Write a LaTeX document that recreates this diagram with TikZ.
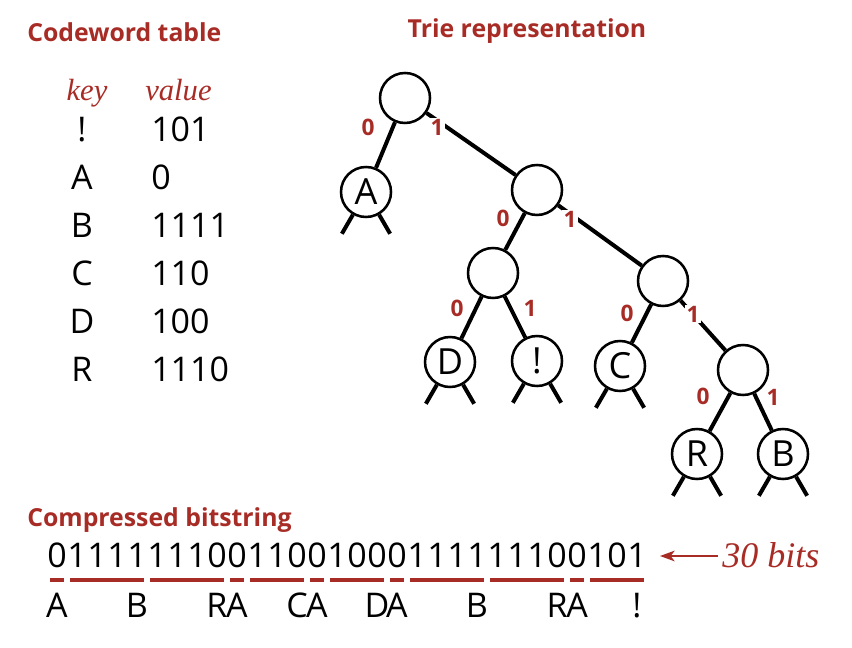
\documentclass[tikz,border=0pt]{standalone}
\usepackage{fontspec}
\setmainfont{Open Sans}
\newfontfamily\serifit{Liberation Serif}
\usetikzlibrary{arrows.meta}
\definecolor{bookred}{RGB}{168,44,38}
\tikzset{
  titletext/.style={anchor=base west, text=bookred, inner sep=0, font=\fontsize{18.6}{22}\selectfont\bfseries},
  tblkey/.style={anchor=base, inner sep=0, font=\fontsize{25.5}{30}\selectfont},
  tblval/.style={anchor=base west, inner sep=0, font=\fontsize{25.5}{30}\selectfont},
  hdr/.style={anchor=base, inner sep=0, text=bookred, font=\fontsize{23}{26}\selectfont\serifit\itshape},
  nd/.style={circle, draw, line width=1.9pt, minimum size=37.5pt, inner sep=0, font=\fontsize{27}{30}\selectfont},
  edge/.style={line width=3pt},
  lbl/.style={text=bookred, inner sep=1pt, font=\fontsize{17}{19}\selectfont\bfseries},
  lblw/.style={lbl, fill=white},
  bit/.style={anchor=base, inner sep=0, font=\fontsize{25.5}{30}\selectfont},
  uline/.style={draw=bookred, line width=3pt},
}
\begin{document}
\begin{tikzpicture}[x=0.75pt,y=-0.75pt]
\useasboundingbox (0,0) rectangle (852,648);
% titles
\node[titletext] (t1) at (27,42) {Codeword table};
\node[titletext, anchor=base] (t2) at (527,38) {Trie representation};
\node[titletext] (t3) at (27,526) {Compressed bitstring};
% table
\node[hdr] (hk) at (87,101) {key};
\node[hdr, anchor=base west] (hv) at (145,101) {value};
\foreach \k/\v [count=\i from 0] in {!/101, A/0, B/1111, C/110, D/100, R/1110}{
  \node[tblkey] (k\i) at (82,142+47.8*\i) {\k};
  \node[tblval] (v\i) at (151,142+47.8*\i) {\v};
}
% trie
\node[nd] (root) at (405,98) {};
\node[nd] (A) at (366,192) {A};
\node[nd] (n1) at (537,190) {};
\node[nd] (n2) at (493,273) {};
\node[nd] (n3) at (663,281) {};
\node[nd] (D) at (450,362) {D};
\node[nd] (ex) at (537,361) {!};
\node[nd] (C) at (620,366) {C};
\node[nd] (n4) at (743,370) {};
\node[nd] (R) at (697,454) {R};
\node[nd] (B) at (783,454) {B};
\draw[edge] (root) -- (A);
\draw[edge] (root) -- (n1);
\draw[edge] (n1) -- (n2);
\draw[edge] (n1) -- (n3);
\draw[edge] (n2) -- (D);
\draw[edge] (n2) -- (ex);
\draw[edge] (n3) -- (C);
\draw[edge] (n3) -- (n4);
\draw[edge] (n4) -- (R);
\draw[edge] (n4) -- (B);
\foreach \n in {A,D,ex,C,R,B}{
  \draw[edge] (\n.240) -- ++(-11,19);
  \draw[edge] (\n.300) -- ++(11,19);
}
\node[lbl] (l1) at (368,127) {0};
\node[lblw] (l2) at (437,127) {1};
\node[lbl] (l3) at (503,218) {0};
\node[lblw] (l4) at (570,219) {1};
\node[lbl] (l5) at (457,308) {0};
\node[lbl] (l6) at (530,308) {1};
\node[lbl] (l7) at (627,313) {0};
\node[lblw] (l8) at (693,314) {1};
\node[lbl] (l9) at (703,396) {0};
\node[lbl] (l10) at (773,397) {1};
% bitstring
\foreach \b [count=\i from 0] in {0,1,1,1,1,1,1,1,0,0,1,1,0,0,1,0,0,0,1,1,1,1,1,1,1,0,0,1,0,1}{
  \node[bit] (b\i) at (57+20*\i,567) {\b};
}
\foreach \s/\e in {0/0,1/4,5/8,9/9,10/12,13/13,14/16,17/17,18/21,22/25,26/26,27/29}{
  \draw[uline] (47+20*\s+3,580) -- (47+20*\e+20-3,580);
}
\foreach \c/\e [count=\j] in {A/0,B/4,R/8,A/9,C/12,A/13,D/16,A/17,B/21,R/25,A/26,!/29}{
  \node[bit] (c\j) at (57+20*\e,617) {\c};
}
\node[anchor=base west, inner sep=0, text=bookred, font=\fontsize{27}{30}\selectfont\serifit\itshape] (note) at (722,567) {30 bits};
\coordinate (tip) at (660,556);
\coordinate (tail) at (718,556);
\draw[draw=bookred, line width=1.3pt, -{Stealth[length=11pt,width=8pt,inset=3pt]}] (tail) -- (tip);
\end{tikzpicture}
\end{document}
